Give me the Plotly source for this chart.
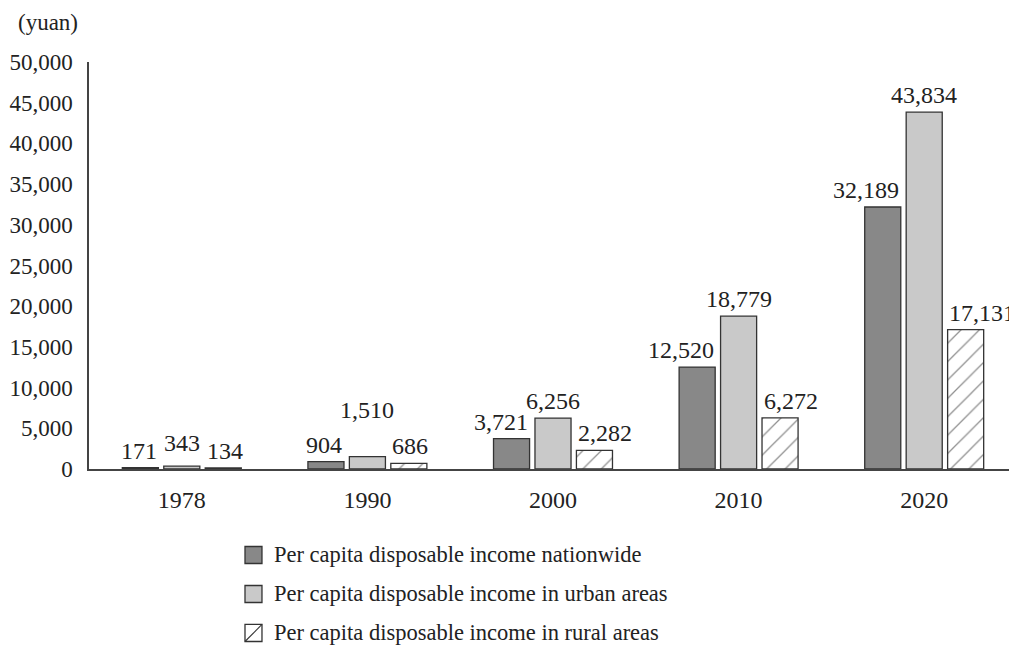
import plotly.graph_objects as go

years = ["1978", "1990", "2000", "2010", "2020"]
nationwide = [171, 904, 3721, 12520, 32189]
urban = [343, 1510, 6256, 18779, 43834]
rural = [134, 686, 2282, 6272, 17131]
series_names = [
    "Per capita disposable income nationwide",
    "Per capita disposable income in urban areas",
    "Per capita disposable income in rural areas",
]
y_ticks = [0, 5000, 10000, 15000, 20000, 25000, 30000, 35000, 40000, 45000, 50000]

FONT = "Liberation Serif, Times New Roman, serif"
FS = 24
EDGE = "#333333"
TXT = "#222222"
COLORS = ["#888888", "#c9c9c9", "white"]

fig = go.Figure()
for si, vals in enumerate([nationwide, urban, rural]):
    marker = dict(color=COLORS[si], line=dict(color=EDGE, width=1.3))
    if si == 2:
        marker["pattern"] = dict(shape="/", fgcolor="#222222", bgcolor="white",
                                 size=13, solidity=0.1)
    fig.add_trace(go.Bar(x=years, y=vals, name=series_names[si], marker=marker,
                         showlegend=False))

# data labels (placement offsets are style only)
slots = [-41, 0, 41]
anchors = ["right", "center", "left"]
edge_shift = {"right": 18, "center": 0, "left": -18}
extra_y = {(1, 1): 30, (1, 0): 6}
for si, vals in enumerate([nationwide, urban, rural]):
    anchor = anchors[si]
    for ci, v in enumerate(vals):
        fig.add_annotation(x=ci, y=v, xref="x", yref="y", text=f"{v:,}", showarrow=False,
                           xanchor=anchor, yanchor="bottom",
                           xshift=slots[si] + edge_shift[anchor],
                           yshift=2 + extra_y.get((si, ci), 0),
                           font=dict(family=FONT, size=FS, color=TXT))

fig.add_annotation(text="(yuan)", xref="paper", yref="paper", x=-0.079, y=1.097,
                   xanchor="left", yanchor="middle", showarrow=False,
                   font=dict(family=FONT, size=23, color=TXT))

# legend drawn below the plot (paper coordinates)
leg_x0, leg_x1, leg_tx = 0.1681, 0.1864, 0.1972
leg_y = [-0.2113, -0.3071, -0.4029]
half = 0.0209
for si, name in enumerate(series_names):
    yc = leg_y[si]
    fig.add_shape(type="rect", xref="paper", yref="paper",
                  x0=leg_x0, x1=leg_x1, y0=yc - half, y1=yc + half,
                  fillcolor=COLORS[si], line=dict(color=EDGE, width=1.3))
    if si == 2:
        fig.add_shape(type="line", xref="paper", yref="paper",
                      x0=leg_x0, x1=leg_x1, y0=yc - half, y1=yc + half,
                      line=dict(color=EDGE, width=1.1))
    fig.add_annotation(text=name, xref="paper", yref="paper", x=leg_tx, y=yc,
                       xanchor="left", yanchor="middle", showarrow=False,
                       font=dict(family=FONT, size=22.5, color=TXT))

fig.update_layout(
    width=1017, height=648,
    margin=dict(l=81, r=8, t=54, b=187),
    paper_bgcolor="white", plot_bgcolor="white",
    barmode="group", bargap=0.33, bargroupgap=0.13,
    font=dict(family=FONT, size=FS, color=TXT),
    showlegend=False,
    xaxis=dict(type="category", range=[-0.5, 4.5], showline=True, linecolor="#444444", linewidth=1.5,
               ticks="outside", ticklen=8, tickcolor="rgba(0,0,0,0)", automargin=False,
               showgrid=False, zeroline=False,
               tickfont=dict(family=FONT, size=FS, color=TXT)),
    yaxis=dict(range=[0, 50000], tickvals=y_ticks, tickformat=",d",
               showline=True, linecolor="#444444", linewidth=1.5,
               ticks="outside", ticklen=10, tickcolor="rgba(0,0,0,0)", automargin=False,
               showgrid=False, zeroline=False,
               tickfont=dict(family=FONT, size=23, color=TXT)),
)

fig.write_html("out.html")
